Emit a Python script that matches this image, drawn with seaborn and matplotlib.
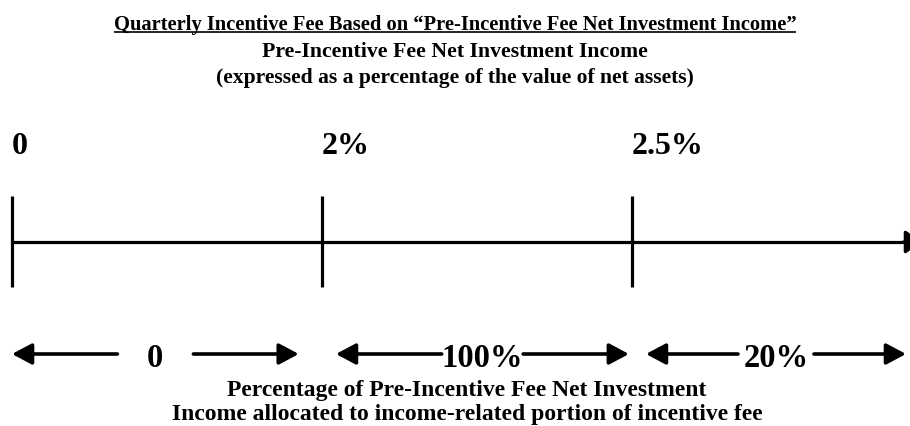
import matplotlib
matplotlib.use("Agg")
import matplotlib.pyplot as plt
import seaborn as sns
import pandas as pd
from matplotlib.patches import ArrowStyle

# Chart content
title_lines = [
    "Quarterly Incentive Fee Based on \u201cPre-Incentive Fee Net Investment Income\u201d",
    "Pre-Incentive Fee Net Investment Income",
    "(expressed as a percentage of the value of net assets)",
]
breakpoints = ["0", "2%", "2.5%"]
allocations = ["0", "100%", "20%"]
footer_lines = [
    "Percentage of Pre-Incentive Fee Net Investment",
    "Income allocated to income-related portion of incentive fee",
]

sns.set_theme(style="white")
plt.rcParams["font.family"] = ["Liberation Serif", "DejaVu Serif"]
plt.rcParams["font.weight"] = "bold"
plt.rcParams["text.color"] = "black"

W, H, DPI = 910, 427, 100
fig = plt.figure(figsize=(W / DPI, H / DPI), dpi=DPI)
ax = fig.add_axes([0, 0, 1, 1])

# x in breakpoint units (one step ~310 px), y in pixel rows
step_px = 310.0
x0_px = 12.0
ax.set_xlim(-x0_px / step_px, (W - x0_px) / step_px)
ax.set_ylim(H, 0)
ax.axis("off")

pos = list(range(len(breakpoints)))
x_line_end = (W + 12 - x0_px) / step_px
x_arrow_end = (W - 4 - x0_px) / step_px

line_y = 243
# number line, its arrow head runs off the right edge
axis_df = pd.DataFrame({"x": [pos[0], x_line_end - 0.03], "y": [line_y, line_y]})
sns.lineplot(data=axis_df, x="x", y="y", color="black", lw=2.3, ax=ax)
ax.annotate("", xy=(x_line_end, line_y), xytext=(x_line_end - 0.06, line_y),
            arrowprops=dict(arrowstyle=ArrowStyle("-|>", head_length=0.5, head_width=0.35),
                            color="black", lw=2.3, shrinkA=0, shrinkB=0,
                            mutation_scale=20),
            annotation_clip=False)

# breakpoint ticks and labels
ax.vlines(pos, 197, 288, color="black", lw=2.3)
for p, lab in zip(pos, breakpoints):
    ax.annotate(lab, xy=(p, 154), xytext=(0, 0), textcoords="offset points",
                ha="left", va="baseline", fontsize=23, fontweight="bold")

# allocation arrows
arrow_y = 355
gap = 0.045
lefts = [pos[0]] + [p + gap for p in pos[1:]]
rights = [p - 0.075 for p in pos[1:2]] + [pos[2] - 0.01, x_arrow_end]
head = ArrowStyle("-|>", head_length=0.6, head_width=0.32)

fig.canvas.draw()
renderer = fig.canvas.get_renderer()
inv = ax.transData.inverted()

for lo, hi, lab in zip(lefts, rights, allocations):
    mid = (lo + hi) / 2
    t = ax.text(mid, 367, lab, ha="center", va="baseline", fontsize=23.5,
                fontweight="bold")
    bb = t.get_window_extent(renderer)
    half_px = max(bb.width, 76) / 2
    cx = ax.transData.transform((mid, arrow_y))
    tl = inv.transform((cx[0] - half_px, cx[1]))[0]
    tr = inv.transform((cx[0] + half_px, cx[1]))[0]
    for a, b in [(tl, lo), (tr, hi)]:
        ax.annotate("", xy=(b, arrow_y), xytext=(a, arrow_y),
                    arrowprops=dict(arrowstyle=head, color="black", lw=2.6,
                                    shrinkA=0, shrinkB=0, mutation_scale=20),
                    annotation_clip=False)

# titles
ytr = ax.get_yaxis_transform()
title_base = [30, 57, 83]
title_size = [14.75, 15.7, 15.6]
for i, (yy, fs, s) in enumerate(zip(title_base, title_size, title_lines)):
    t = ax.text(0.5, yy, s, transform=ytr, ha="center", va="baseline",
                fontsize=fs, fontweight="bold")
    if i == 0:
        bb = t.get_window_extent(renderer)
        xa = inv.transform((bb.x0, 0))[0]
        xb = inv.transform((bb.x1, 0))[0]
        ax.hlines(yy + 2.5, xa, xb, color="black", lw=1.2)

for yy, s in zip([396, 420], footer_lines):
    ax.text(0.513, yy, s, transform=ytr, ha="center", va="baseline",
            fontsize=17, fontweight="bold")

fig.savefig("out.png", dpi=DPI, facecolor="white")
